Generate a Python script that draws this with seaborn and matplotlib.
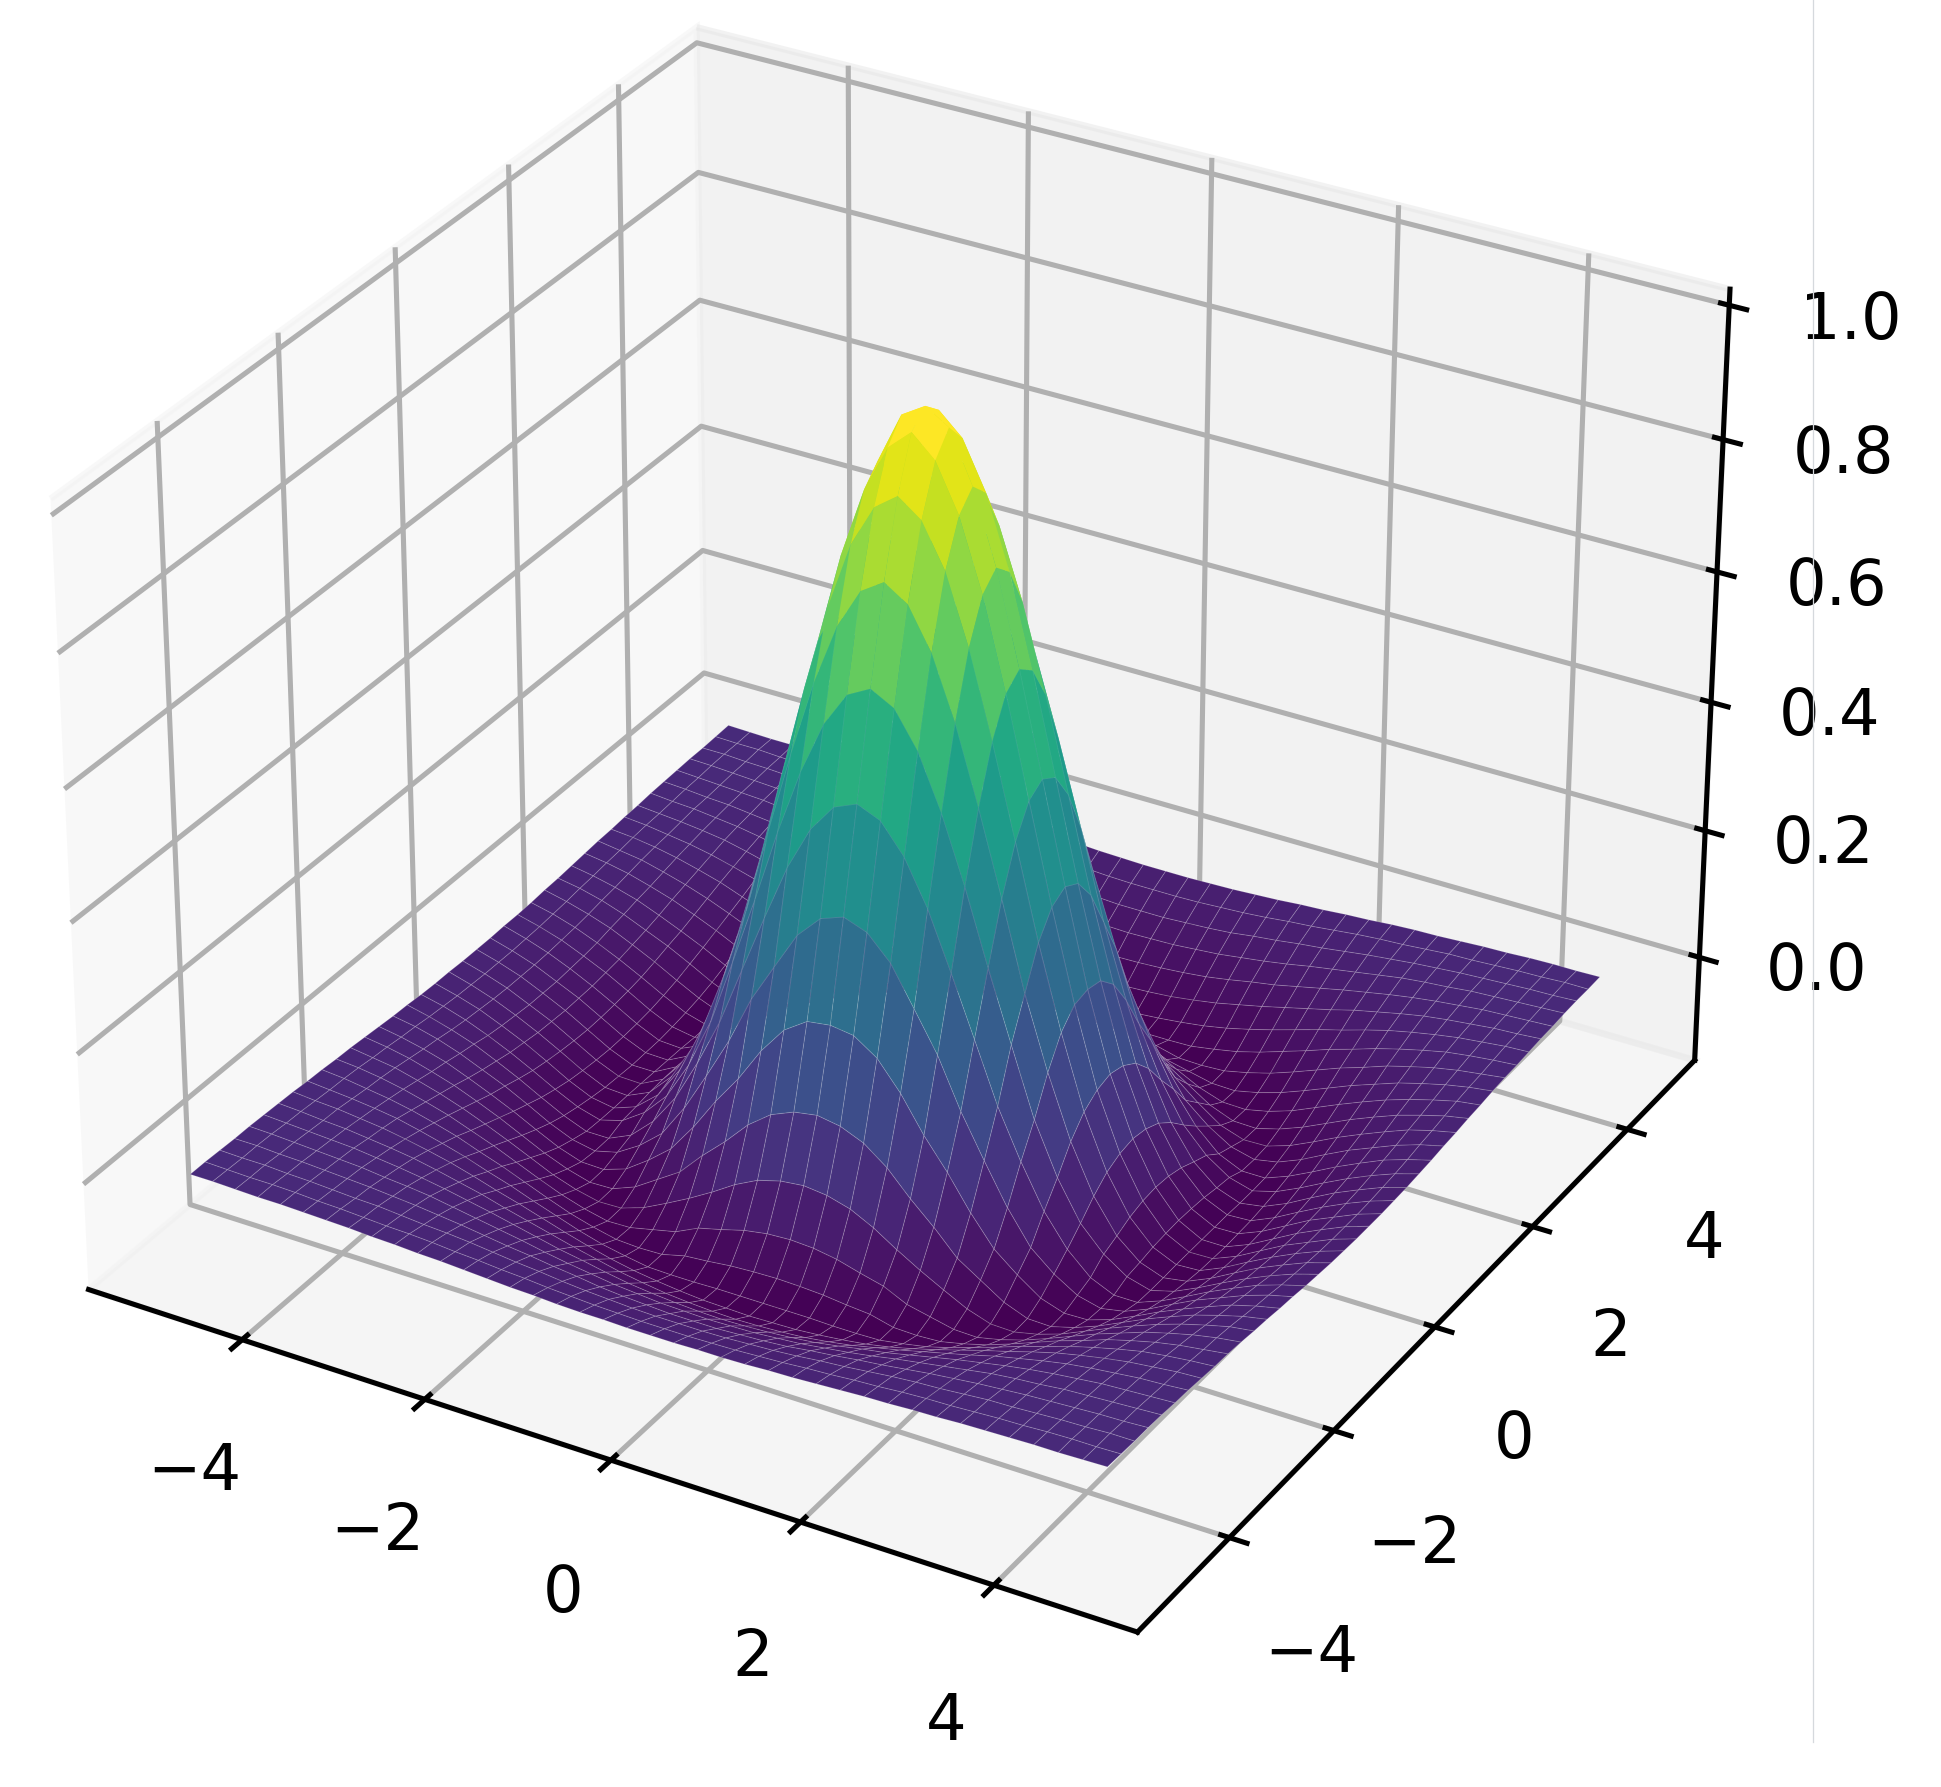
import numpy as np
import matplotlib
matplotlib.use('Agg')
import matplotlib.pyplot as plt
from matplotlib.lines import Line2D
import seaborn as sns

# grid positions of the mesh, 0.25 apart
grid_xy = np.arange(-20, 20) * 0.25

# heights at |x|, |y| = 0, 0.25, ... 5
# the surface looks the same in all quadrants, so only one triangle is listed
heights = [
    [1.000, .978, .901, .791, .650, .495, .342, .195, .075, -.015, -.080, -.121, -.140, -.140, -.125, -.105, -.085, -.068, -.052, -.040, -.030],
    [.946, .875, .768, .631, .480, .329, .190, .069, -.019, -.082, -.122, -.140, -.139, -.124, -.104, -.084, -.068, -.052, -.040, -.030],
    [.810, .706, .577, .436, .293, .166, .054, -.029, -.088, -.124, -.140, -.138, -.122, -.102, -.083, -.066, -.051, -.039, -.029],
    [.612, .495, .368, .234, .123, .027, -.047, -.098, -.128, -.141, -.135, -.119, -.099, -.080, -.064, -.049, -.038, -.029],
    [.394, .281, .174, .069, -.010, -.070, -.107, -.131, -.141, -.131, -.114, -.095, -.077, -.061, -.047, -.036, -.028],
    [.190, .098, .023, -.043, -.091, -.124, -.140, -.140, -.126, -.108, -.089, -.072, -.056, -.044, -.034, -.026],
    [.033, -.029, -.080, -.110, -.132, -.141, -.134, -.119, -.100, -.082, -.067, -.052, -.040, -.031, -.025],
    [-.074, -.103, -.128, -.140, -.139, -.127, -.110, -.092, -.076, -.061, -.047, -.037, -.029, -.023],
    [-.126, -.140, -.141, -.131, -.117, -.100, -.083, -.068, -.054, -.043, -.033, -.026, -.021],
    [-.141, -.133, -.121, -.105, -.089, -.074, -.060, -.048, -.038, -.029, -.024, -.019],
    [-.122, -.108, -.093, -.078, -.065, -.052, -.042, -.033, -.026, -.021, -.018],
    [-.094, -.080, -.068, -.055, -.045, -.036, -.029, -.024, -.019, -.016],
    [-.069, -.057, -.047, -.038, -.030, -.025, -.021, -.018, -.015],
    [-.047, -.039, -.032, -.026, -.022, -.018, -.016, -.013],
    [-.032, -.027, -.023, -.019, -.017, -.014, -.012],
    [-.023, -.019, -.017, -.015, -.013, -.011],
    [-.017, -.015, -.013, -.011, -.010],
    [-.013, -.012, -.010, -.010],
    [-.010, -.010, -.009],
    [-.009, -.008],
    [-.008],
]

quadrant = np.zeros((21, 21))
for i, row in enumerate(heights):
    quadrant[i, i:] = row
    quadrant[i:, i] = row

idx = np.abs(np.arange(-20, 20))
Z = quadrant[np.ix_(idx, idx)]
X, Y = np.meshgrid(grid_xy, grid_xy)

fig = plt.figure(figsize=(1941 / 460, 1787 / 460), dpi=460)
ax = fig.add_axes([-0.0270, 0.0207, 0.962, 1.045], projection='3d')
surf = ax.plot_surface(X, Y, Z, cmap=sns.color_palette('viridis', as_cmap=True),
                       rstride=1, cstride=1, linewidth=0.15)

# pale seams between the low facets, fading out towards the top of the peak
face_z = surf.get_array()
seams = np.ones((len(face_z), 4))
seams[:, 3] = np.clip(0.17 - 0.22 * face_z, 0, 0.17)
surf.set_edgecolor(seams)

# thin rule at the right of the original screenshot
fig.add_artist(Line2D([0.934, 0.934], [0.025, 1.0], color='#d5d9dd', lw=0.2))

fig.savefig('out.png', dpi=460)
